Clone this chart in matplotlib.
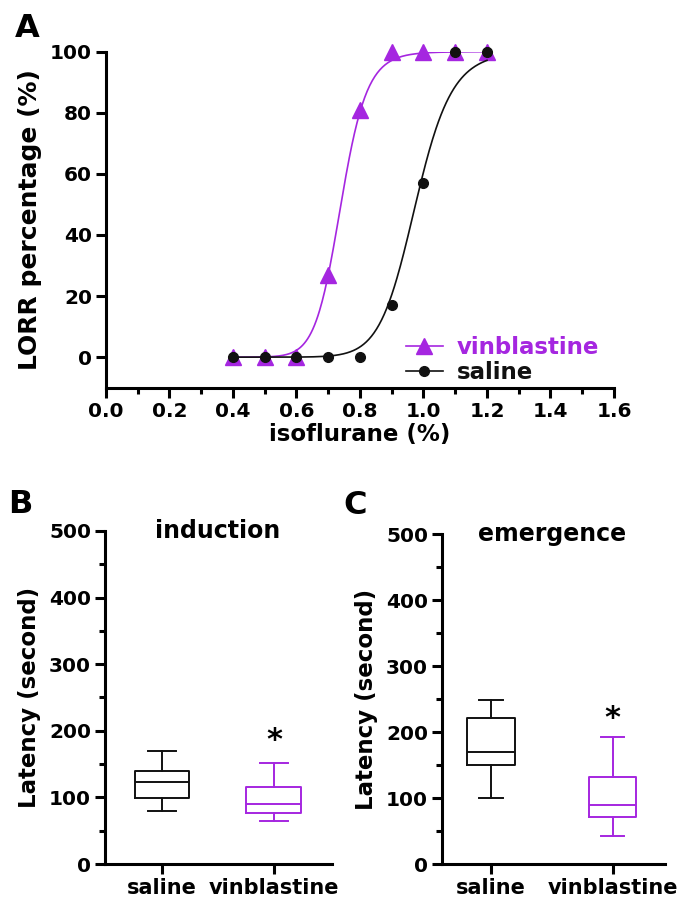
import numpy as np
import matplotlib
matplotlib.use("Agg")
import matplotlib.pyplot as plt
from matplotlib.lines import Line2D
from matplotlib.ticker import MultipleLocator

# panel A: loss of righting reflex vs isoflurane
iso = [0.4, 0.5, 0.6, 0.7, 0.8, 0.9, 1.0, 1.1, 1.2]
lorr_vin = [0, 0, 0, 27, 81, 100, 100, 100, 100]
lorr_sal = [0, 0, 0, 0, 0, 17, 57, 100, 100]
# hill fit (ec50, slope)
fit_vin = (0.74, 18)
fit_sal = (0.975, 17)
xticks_A = [0.0, 0.2, 0.4, 0.6, 0.8, 1.0, 1.2, 1.4, 1.6]

# panels B, C: latency box plots (whislo, q1, med, q3, whishi)
groups = ["saline", "vinblastine"]
induction = [[80, 99, 123, 140, 169], [65, 76, 90, 115, 151]]
emergence = [[100, 150, 169, 221, 249], [43, 71, 90, 132, 192]]
star_ind = 193
star_eme = 228

purple = "#a526e0"
black = "#111111"
cols = [black, purple]

plt.rcParams["font.family"] = ["DejaVu Sans"]
plt.rcParams["font.weight"] = "bold"
plt.rcParams["axes.labelweight"] = "bold"

fig = plt.figure(figsize=(6.85, 9.05), dpi=100)


def style(ax):
    for s in ["top", "right"]:
        ax.spines[s].set_visible(False)
    for s in ["left", "bottom"]:
        ax.spines[s].set_linewidth(2.2)
    ax.tick_params(which="major", width=2.2, length=7, labelsize=14.5, pad=3)
    ax.tick_params(which="minor", width=2.2, length=4)


def hill(x, p):
    return 100 / (1 + (p[0] / x) ** p[1])


# A
axA = fig.add_axes([0.1547, 0.5716, 0.7416, 0.3713])
style(axA)
xx = np.linspace(iso[0], iso[-1], 300)
axA.plot(xx, hill(xx, fit_vin), color=purple, lw=1.2)
axA.plot(iso, lorr_vin, "^", color=purple, ms=12, clip_on=False)
axA.plot(xx, hill(xx, fit_sal), color=black, lw=1.2)
axA.plot(iso, lorr_sal, "o", color=black, ms=7, clip_on=False)
axA.set_xlim(0, 1.6)
axA.set_ylim(-10, 100)
axA.set_xticks(xticks_A)
axA.set_xticklabels(["%.1f" % v for v in xticks_A])
axA.xaxis.set_minor_locator(MultipleLocator(0.1))
axA.set_yticks([0, 20, 40, 60, 80, 100])
axA.set_xlabel("isoflurane (%)", fontsize=16.5, labelpad=2)
axA.set_ylabel("LORR percentage (%)", fontsize=18, labelpad=6)
h = [Line2D([], [], color=purple, marker="^", ms=12, lw=1.2),
     Line2D([], [], color=black, marker="o", ms=7, lw=1.2)]
leg = axA.legend(h, ["vinblastine", "saline"], loc="lower left",
                 bbox_to_anchor=(0.55, -0.05), frameon=False, fontsize=16.5,
                 handlelength=1.6, handletextpad=0.6, labelspacing=0.1)
leg.get_texts()[0].set_color(purple)
leg.get_texts()[1].set_color(black)


def boxes(ax, stats, xlim, width, title, star_y):
    style(ax)
    data = []
    for g, s in zip(groups, stats):
        data.append({"label": g, "whislo": s[0], "q1": s[1], "med": s[2],
                     "q3": s[3], "whishi": s[4], "fliers": []})
    bp = ax.bxp(data, positions=[0, 1], widths=width, showfliers=False,
                patch_artist=False)
    for i, c in enumerate(cols):
        for art in [bp["boxes"][i], bp["medians"][i]]:
            art.set_color(c)
            art.set_linewidth(1.4)
        for art in bp["whiskers"][2 * i:2 * i + 2] + bp["caps"][2 * i:2 * i + 2]:
            art.set_color(c)
            art.set_linewidth(1.4)
    ax.set_xlim(*xlim)
    ax.set_ylim(0, 500)
    ax.yaxis.set_major_locator(MultipleLocator(100))
    ax.yaxis.set_minor_locator(MultipleLocator(50))
    ax.set_xticks([0, 1])
    ax.set_xticklabels(groups, fontsize=15)
    ax.set_ylabel("Latency (second)", fontsize=16.5, labelpad=6)
    ax.text(0.5, 489, title, ha="center", va="baseline", fontsize=17)
    ax.text(1, star_y - 8, "*", ha="center", va="center", fontsize=22)


axB = fig.add_axes([0.1533, 0.0453, 0.3314, 0.368])
boxes(axB, induction, (-0.51, 1.52), 0.49, "induction", star_ind)
axC = fig.add_axes([0.6453, 0.0453, 0.3255, 0.3646])
boxes(axC, emergence, (-0.40, 1.43), 0.39, "emergence", star_eme)

fig.text(15 / 685, 1 - 37 / 905, "A", fontsize=23)
fig.text(8 / 685, 1 - 513 / 905, "B", fontsize=23)
fig.text(343 / 685, 1 - 514 / 905, "C", fontsize=23)

fig.savefig("out.png", dpi=100)
